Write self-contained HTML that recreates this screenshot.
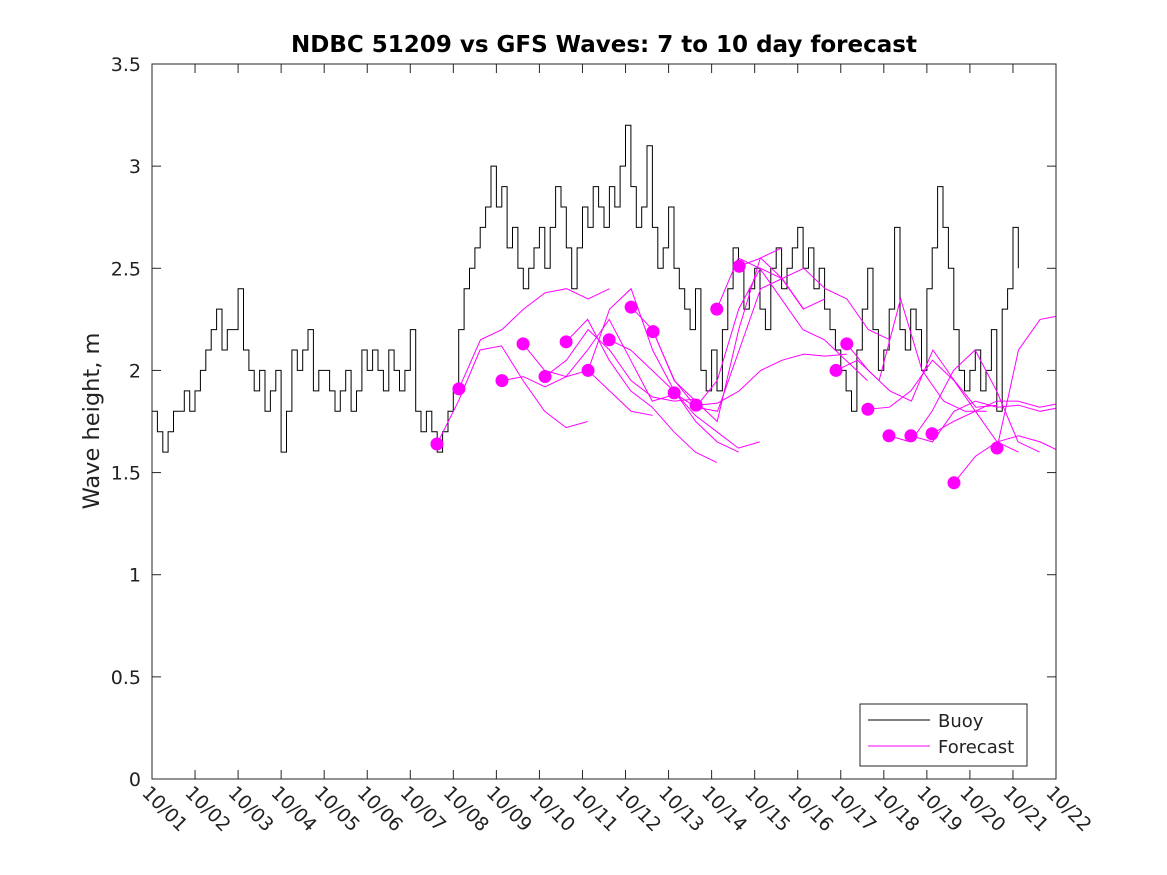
<!DOCTYPE html>
<html><head><meta charset="utf-8"><style>
html,body{margin:0;padding:0;background:#fff;}
svg{display:block;font-family:"DejaVu Sans","Liberation Sans",sans-serif;}
</style></head><body>
<svg id="chart" width="1167" height="875" viewBox="0 0 1167 875">
<rect x="0" y="0" width="1167" height="875" fill="#fff"/>
<text x="604" y="52" text-anchor="middle" font-size="23" font-weight="bold">NDBC 51209 vs GFS Waves: 7 to 10 day forecast</text>
<text transform="translate(99,421) rotate(-90)" text-anchor="middle" font-size="22.5" fill="#222">Wave height, m</text>
<g id="axes"></g>
<defs><clipPath id="plotclip"><rect x="152" y="64" width="904" height="715"/></clipPath></defs>
<g id="series" clip-path="url(#plotclip)"></g>
<rect x="152" y="64" width="904" height="715" fill="none" stroke="#262626" stroke-width="1"/>
<g>
<rect x="860" y="704" width="167" height="62" fill="#fff" stroke="#262626" stroke-width="1"/>
<line x1="868" y1="720" x2="930" y2="720" stroke="#000" stroke-width="1"/>
<text x="938" y="727" font-size="18" fill="#222">Buoy</text>
<line x1="868" y1="746" x2="930" y2="746" stroke="#ff00ff" stroke-width="1"/>
<text x="938" y="753" font-size="18" fill="#222">Forecast</text>
</g>
</svg>
<script>
const xTickLabels=["10/01","10/02","10/03","10/04","10/05","10/06","10/07","10/08","10/09","10/10","10/11","10/12","10/13","10/14","10/15","10/16","10/17","10/18","10/19","10/20","10/21","10/22"];
const yTicks=[0,0.5,1,1.5,2,2.5,3,3.5];
const yTickLabels=["0","0.5","1","1.5","2","2.5","3","3.5"];
const buoyStep=0.125;
const buoyVals=[1.8,1.7,1.6,1.7,1.8,1.8,1.9,1.8,
1.9,2.0,2.1,2.2,2.3,2.1,2.2,2.2,
2.4,2.1,2.0,1.9,2.0,1.8,1.9,2.0,
1.6,1.8,2.1,2.0,2.1,2.2,1.9,2.0,
2.0,1.9,1.8,1.9,2.0,1.8,1.9,2.1,
2.0,2.1,2.0,1.9,2.1,2.0,1.9,2.0,
2.2,1.8,1.7,1.8,1.7,1.6,1.7,1.8,
1.9,2.2,2.4,2.5,2.6,2.7,2.8,3.0,
2.8,2.9,2.6,2.7,2.5,2.4,2.5,2.6,
2.7,2.5,2.7,2.9,2.8,2.6,2.4,2.6,
2.8,2.7,2.9,2.8,2.7,2.9,2.8,3.0,
3.2,2.9,2.7,2.8,3.1,2.7,2.5,2.6,
2.8,2.5,2.4,2.3,2.2,2.4,2.0,1.9,
2.1,1.9,2.2,2.4,2.6,2.5,2.3,2.4,
2.5,2.3,2.2,2.5,2.6,2.4,2.5,2.6,
2.7,2.5,2.6,2.4,2.5,2.3,2.2,2.1,
2.0,1.9,1.8,2.1,2.3,2.5,2.2,2.0,
2.1,2.3,2.7,2.2,2.1,2.3,2.2,2.0,
2.4,2.6,2.9,2.7,2.5,2.2,2.0,1.9,
2.0,2.1,1.9,2.0,2.2,1.8,2.3,2.4,
2.7,2.5];
const fcStep=0.5;
const fcStarts=[6.62,7.13,8.13,8.62,9.13,9.62,10.13,10.62,11.13,11.64,12.13,12.64,13.12,13.64,15.89,16.14,16.63,17.12,17.63,18.12,18.63,19.63];
const fcVals=[
[1.64,1.85,2.10,2.12,1.95,1.80,1.72,1.75],
[1.91,2.15,2.20,2.30,2.38,2.40,2.35,2.40],
[1.95,1.97,1.92,1.97,2.00,1.90,1.80,1.78],
[2.13,2.00,1.97,2.10,2.25,2.05,1.85,1.88],
[1.97,2.05,2.20,2.10,1.95,1.87,1.85,1.86],
[2.14,2.25,2.05,1.90,1.82,1.70,1.60,1.55],
[2.00,2.30,2.40,2.10,1.90,1.75,1.65,1.60],
[2.15,2.10,2.00,1.90,1.78,1.70,1.62,1.65],
[2.31,2.20,1.95,1.85,1.75,2.20,2.55,2.60],
[2.19,1.95,1.82,1.80,2.10,2.40,2.45,2.30],
[1.89,1.82,1.95,2.30,2.50,2.45,2.30,2.35],
[1.83,1.84,1.90,2.00,2.05,2.08,2.07,2.08],
[2.30,2.55,2.50,2.35,2.20,2.15,2.05,1.95],
[2.51,2.55,2.45,2.50,2.40,2.35,2.20,2.15],
[2.00,2.05,1.95,2.35,2.00,1.85,1.80,1.80],
[2.13,2.00,1.90,1.85,2.10,1.95,1.82,1.83],
[1.81,1.82,1.90,2.05,1.95,1.80,1.65,1.60],
[1.68,1.65,1.80,2.00,2.10,1.90,1.65,1.60],
[1.68,1.65,1.80,1.85,1.82,1.83,1.80,1.82],
[1.69,1.75,1.80,1.85,1.85,1.82,1.84,1.83],
[1.45,1.58,1.65,1.68,1.65,1.60,1.62,1.60],
[1.62,2.10,2.25,2.27,2.27,2.30,2.28,2.28]];

const NS="http://www.w3.org/2000/svg";
const X0=152,X1=1056,Y0=779,Y1=64;
const xs=d=>X0+d*(X1-X0)/21;
const ys=v=>Y0-v*(Y0-Y1)/3.5;
function mk(tag,attrs,parent){const e=document.createElementNS(NS,tag);for(const k in attrs)e.setAttribute(k,attrs[k]);parent.appendChild(e);return e;}
const axes=document.getElementById('axes');
const series=document.getElementById('series');
xTickLabels.forEach((lab,i)=>{
  const x=xs(i);
  const t1=mk('line',{x1:x,y1:Y0,x2:x,y2:Y0-9,stroke:'#262626'},axes);
  
  
  const t2=mk('line',{x1:x,y1:Y1,x2:x,y2:Y1+9,stroke:'#262626'},axes);
  
  
  const tx=mk('text',{transform:`translate(${x-11},${Y0+15}) rotate(45)`,'font-size':19,fill:'#222'},axes);
  tx.textContent=lab;
  
  
});
yTicks.forEach((v,i)=>{
  const y=ys(v);
  const t1=mk('line',{x1:X0,y1:y,x2:X0+9,y2:y,stroke:'#262626'},axes);
  
  
  const t2=mk('line',{x1:X1,y1:y,x2:X1-9,y2:y,stroke:'#262626'},axes);
  
  
  const tx=mk('text',{x:X0-11,y:y+7,'text-anchor':'end','font-size':19,fill:'#222'},axes);
  tx.textContent=yTickLabels[i];
  
  
});
let d='';
buoyVals.forEach((v,i)=>{const x=xs(i*buoyStep),y=ys(v);d+=(i?`H${x.toFixed(1)}V${y.toFixed(1)}`:`M${x.toFixed(1)},${y.toFixed(1)}`);});
const bp=mk('path',{d:d,fill:'none',stroke:'#000','stroke-width':1},series);


fcVals.forEach((vals,k)=>{
  const s=fcStarts[k];
  const pts=vals.map((v,i)=>`${xs(s+i*fcStep).toFixed(1)},${ys(v).toFixed(1)}`).join(' ');
  const pl=mk('polyline',{points:pts,fill:'none',stroke:'#ff00ff','stroke-width':1},series);
  
  
});
fcVals.forEach((vals,k)=>{
  const c=mk('circle',{cx:xs(fcStarts[k]),cy:ys(vals[0]),r:6.5,fill:'#ff00ff'},series);
  
  
});
</script>
</body></html>
